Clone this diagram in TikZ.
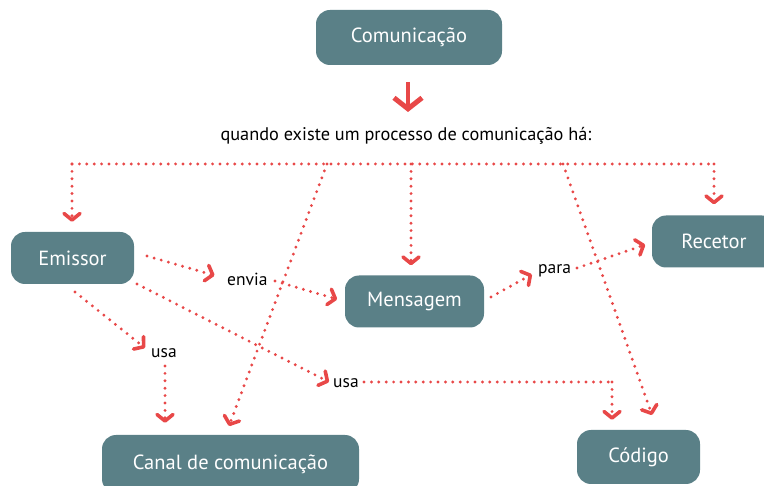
\documentclass[tikz,border=0pt]{standalone}
\usepackage{fontspec}
\setmainfont{PT Sans}
\usetikzlibrary{arrows.meta,calc}
\definecolor{boxfill}{RGB}{90,128,135}
\definecolor{linered}{RGB}{232,72,72}
\tikzset{
  box/.style={fill=boxfill, rounded corners=14pt, text=white, font=\fontsize{20.5}{22}\selectfont, inner sep=0pt, anchor=center},
  lbl/.style={inner sep=0pt, font=\fontsize{17.5}{19}\selectfont, text=black},
  dotline/.style={draw=linered, line width=3.2pt, line cap=round, dash pattern=on 0pt off 7.4pt},
  dotarr/.style={dotline, -{Straight Barb[length=6.5pt,width=16pt,line width=3.6pt,round]}},
}
\begin{document}
\begin{tikzpicture}[x=1pt,y=-1pt]
\useasboundingbox (0,0) rectangle (764,486);
% boxes
\node[box, minimum width=186pt, minimum height=55pt] (com) at (409,37.5) {Comunicação};
\node[box, minimum width=123pt, minimum height=52pt] (emissor) at (72.5,258) {Emissor};
\node[box, minimum width=139pt, minimum height=52pt] (mensagem) at (414.5,301.5) {Mensagem};
\node[box, minimum width=124pt, minimum height=52pt] (recetor) at (714,241.5) {Recetor};
\node[box, minimum width=257pt, minimum height=58pt] (canal) at (230.5,464) {Canal de comunicação};
\node[box, minimum width=123pt, minimum height=54pt] (codigo) at (638.5,457) {Código};
% text
\node[lbl, font=\fontsize{18.3}{20}\selectfont] (proc) at (406,136) {quando existe um processo de comunicação há:};
\node[lbl, anchor=west] (envia) at (227,279) {envia};
\node[lbl, anchor=west] (para) at (538,271) {para};
\node[lbl, anchor=west] (usaL) at (151,353) {usa};
\node[lbl, anchor=west] (usaR) at (333,383) {usa};
% big arrow
\coordinate (bigS) at (408,82);
\draw[draw=linered, line width=4.5pt, -{Straight Barb[length=11pt,width=28pt,line width=5pt]}] (bigS) -- (408,112);
% trunk
\coordinate (hL) at (72,164);
\coordinate (hC) at (327,164);
\coordinate (hM) at (411,164);
\coordinate (hD) at (563,164);
\coordinate (hR) at (714,164);
\draw[dotline] (hL) -- (hR);
\draw[dotarr, shorten >=10pt] (hL) -- (hL |- emissor.north);
\draw[dotarr, shorten >=10pt] (hM) -- (hM |- mensagem.north);
\draw[dotarr, shorten >=11pt] (hR) -- (hR |- recetor.north);
\coordinate (cTip) at (229,426);
\draw[dotarr] (hC) -- (cTip);
\coordinate (dTip) at (652,415);
\draw[dotarr] (hD) -- (dTip);
% emissor -> envia -> mensagem
\coordinate (e1) at (147,256);
\draw[dotarr, shorten >=13pt] (e1) -- (envia.west);
\coordinate (e2) at (275,281);
\draw[dotarr, shorten >=8pt] (e2) -- (mensagem.west);
% mensagem -> para -> recetor
\coordinate (m1) at (491,297);
\draw[dotarr, shorten >=7pt] (m1) -- (para.west);
\coordinate (p1) at (577,268);
\draw[dotarr, shorten >=7pt] (p1) -- ($(recetor.west)+(0,1)$);
% emissor -> usa (left) -> canal
\coordinate (u1) at (75,292);
\coordinate (u1t) at (145,348);
\draw[dotarr] (u1) -- (u1t);
\coordinate (u2) at (165,366);
\draw[dotarr, shorten >=12pt] (u2) -- (u2 |- canal.north);
% emissor -> usa (right) -> codigo
\coordinate (r1) at (137,284);
\coordinate (r1t) at (329,382);
\draw[dotarr] (r1) -- (r1t);
\coordinate (r2) at (364,382);
\coordinate (rc) at (612,382);
\draw[dotline] (r2) -- (rc);
\draw[dotarr, shorten >=10pt] (rc) -- (rc |- codigo.north);
\end{tikzpicture}
\end{document}
